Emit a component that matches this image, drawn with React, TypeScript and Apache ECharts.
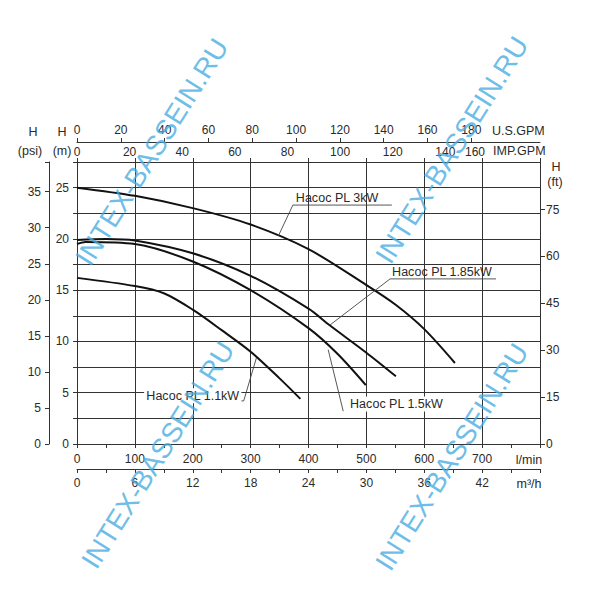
import React, { useEffect, useRef } from 'react';
import * as echarts from 'echarts';

// ---- unit conversions (axes share one physical scale: l/min and metres) ----
const LPM_MAX = 800;
const H_MAX = 27.5;
const L_PER_USGAL = 3.78541;
const L_PER_IMPGAL = 4.54609;
const M_PER_PSI = 0.70307;
const M_PER_FT = 0.3048;

// ---- tick labels ----
const lpmLabels = [0, 100, 200, 300, 400, 500, 600, 700];
const m3hLabels = [0, 6, 12, 18, 24, 30, 36, 42];
const usGpmLabels = [0, 20, 40, 60, 80, 100, 120, 140, 160, 180];
const impGpmLabels = [0, 20, 40, 60, 80, 100, 120, 140, 160];
const hMLabels = [0, 5, 10, 15, 20, 25];
const psiLabels = [0, 5, 10, 15, 20, 25, 30, 35];
const ftLabels = [0, 15, 30, 45, 60, 75];

// ---- pump curves: flow (l/min) and head (m) ----
const pump3kWQ = [0, 100, 200, 300, 400, 500, 550, 600, 653];
const pump3kWH = [25.0, 24.2, 23.0, 21.4, 19.0, 15.5, 13.6, 11.2, 7.9];

const pump185Q = [0, 50, 100, 200, 300, 400, 436, 500, 551];
const pump185H = [19.9, 20.0, 19.85, 18.6, 16.4, 13.2, 11.6, 8.9, 6.6];

const pump15Q = [0, 15, 100, 200, 300, 400, 450, 499];
const pump15H = [19.5, 19.7, 19.5, 17.8, 15.0, 11.3, 8.8, 5.75];

const pump11Q = [0, 100, 150, 200, 250, 300, 350, 386];
const pump11H = [16.2, 15.4, 14.7, 13.1, 11.1, 9.0, 6.4, 4.4];

const seriesNames = ['Насос PL 3kW', 'Насос PL 1.85kW', 'Насос PL 1.5kW', 'Насос PL 1.1kW'];

const AX = '#333';
const TXT = '#2a2a2a';
const FONT = '"Liberation Sans", Arial, sans-serif';

const zip = (q: number[], h: number[]) => q.map((x, i) => [x, h[i]]);

const lbl = (list: number[], extra: any = {}) => ({
  fontSize: 12,
  color: TXT,
  fontFamily: FONT,
  formatter: (v: number) => (list.includes(v) ? String(v) : ''),
  ...extra,
});

export default function App() {
  const ref = useRef<HTMLDivElement>(null);

  useEffect(() => {
    if (!ref.current) return;
    const chart = echarts.init(ref.current, null, { renderer: 'svg' });

    const curveSeries = [
      zip(pump3kWQ, pump3kWH),
      zip(pump185Q, pump185H),
      zip(pump15Q, pump15H),
      zip(pump11Q, pump11H),
    ].map((data, i) => ({
      type: 'line',
      name: seriesNames[i],
      xAxisIndex: 0,
      yAxisIndex: 0,
      data,
      smooth: 0.3,
      symbol: 'none',
      lineStyle: { color: '#111', width: 2 },
      z: 5,
    }));

    const option: any = {
      animation: false,
      backgroundColor: '#fff',
      grid: { left: 77, top: 162, right: 60, bottom: 156, outerBoundsMode: 'none' },
      xAxis: [
        {
          type: 'value', position: 'bottom', min: 0, max: LPM_MAX, interval: 100,
          axisLine: { show: true, onZero: false, lineStyle: { color: AX, width: 1 } },
          axisTick: { show: true, length: 4, lineStyle: { color: AX } },
          minorTick: { show: true, splitNumber: 2, length: 4, lineStyle: { color: AX } },
          splitLine: { show: true, lineStyle: { color: AX, width: 1 } },
          axisLabel: lbl(lpmLabels, { margin: 9 }),
        },
        {
          type: 'value', position: 'bottom', offset: 25, min: 0, max: (LPM_MAX * 60) / 1000, interval: 6,
          axisLine: { show: true, onZero: false, lineStyle: { color: AX, width: 1 } },
          axisTick: { show: true, length: 4, lineStyle: { color: AX } },
          minorTick: { show: true, splitNumber: 2, length: 4, lineStyle: { color: AX } },
          splitLine: { show: false },
          axisLabel: lbl(m3hLabels, { margin: 8 }),
        },
        {
          type: 'value', position: 'top', offset: 20, min: 0, max: LPM_MAX / L_PER_USGAL, interval: 20,
          axisLine: { show: true, onZero: false, lineStyle: { color: AX, width: 1 } },
          axisTick: { show: true, length: 4, lineStyle: { color: AX }, customValues: usGpmLabels },
          splitLine: { show: false },
          axisLabel: lbl(usGpmLabels, { margin: 6 }),
        },
        {
          type: 'value', position: 'top', offset: 0, min: 0, max: LPM_MAX / L_PER_IMPGAL, interval: 20,
          axisLine: { show: true, onZero: false, lineStyle: { color: AX, width: 1 } },
          axisTick: { show: false },
          splitLine: { show: false },
          axisLabel: lbl(impGpmLabels, {
            margin: 4,
            formatter: (v: number) =>
              !impGpmLabels.includes(v) ? '' : v === 160 ? '{s|160}' : String(v),
            rich: { s: { padding: [0, 46, 0, 0], fontSize: 12, color: TXT, fontFamily: FONT } },
          }),
        },
        {
          type: 'value', position: 'top', offset: 0, min: 0, max: LPM_MAX, interval: 100,
          axisLine: { show: false, onZero: false },
          axisTick: { show: true, length: 4, lineStyle: { color: AX } },
          splitLine: { show: false },
          axisLabel: { show: false },
        },
      ],
      yAxis: [
        {
          type: 'value', position: 'left', min: 0, max: H_MAX, interval: 2.5,
          axisLine: { show: true, onZero: false, lineStyle: { color: AX, width: 1 } },
          axisTick: { show: true, length: 4, lineStyle: { color: AX } },
          splitLine: { show: true, lineStyle: { color: AX, width: 1 } },
          axisLabel: lbl(hMLabels, { margin: 8 }),
        },
        {
          type: 'value', position: 'left', offset: 28, min: 0, max: H_MAX / M_PER_PSI, interval: 5,
          axisLine: { show: true, onZero: false, lineStyle: { color: AX, width: 1 } },
          axisTick: { show: true, length: 4, lineStyle: { color: AX } },
          splitLine: { show: false },
          axisLabel: lbl(psiLabels, { margin: 8 }),
        },
        {
          type: 'value', position: 'right', offset: 0, min: 0, max: H_MAX / M_PER_FT, interval: 15,
          axisLine: { show: true, onZero: false, lineStyle: { color: AX, width: 1 } },
          axisTick: { show: true, length: 5, lineStyle: { color: AX }, customValues: ftLabels },
          splitLine: { show: false },
          axisLabel: lbl(ftLabels, { margin: 6 }),
        },
      ],
      series: curveSeries,
    };

    chart.setOption(option);

    const P = (q: number, h: number) =>
      chart.convertToPixel({ xAxisIndex: 0, yAxisIndex: 0 } as any, [q, h]) as number[];

    const txt = (text: string, x: number, y: number, align = 'center', size = 12.5, extra: any = {}) => ({
      type: 'text',
      x,
      y,
      z: 20,
      style: {
        text,
        fill: TXT,
        font: `${size}px ${FONT}`,
        align,
        verticalAlign: 'middle',
        textAlign: align,
        textVerticalAlign: 'middle',
        ...extra,
      },
    });

    const leader = (pts: number[][]) => ({
      type: 'polyline',
      z: 19,
      shape: { points: pts.map(([q, h]) => P(q, h)) },
      style: { stroke: '#444', lineWidth: 0.9, fill: null },
    });

    // annotation anchors in data units (l/min, m)
    const a3 = { curve: [348, 20.3], underline: [[373, 23.3], [544, 23.3]] };
    const a185 = { curve: [437, 11.6], underline: [[541, 16.1], [724, 16.1]] };
    const a15 = { curve: [434, 9.2], end: [460, 3.2], text: [552, 3.9] };
    const a11 = { curve: [310, 8.4], corner: [288, 4.2], end: [281, 4.2], text: [200, 4.7] };

    const u3 = P(a3.underline[0][0], a3.underline[0][1]);
    const u185 = P(a185.underline[0][0], a185.underline[0][1]);
    const t15 = P(a15.text[0], a15.text[1]);
    const t11 = P(a11.text[0], a11.text[1]);

    const wm = (cx: number, cy: number) => ({
      type: 'text',
      x: cx,
      y: cy,
      rotation: 1.01,
      z: 30,
      silent: true,
      style: {
        text: 'INTEX-BASSEIN.RU',
        fill: 'rgba(70,172,226,0.8)',
        font: `28px ${FONT}`,
        align: 'center',
        verticalAlign: 'middle',
        textAlign: 'center',
        textVerticalAlign: 'middle',
      },
    });

    chart.setOption({
      graphic: [
        // axis unit captions
        txt('H', 33, 132), txt('(psi)', 30, 151),
        txt('H', 62, 132), txt('(m)', 62, 151),
        txt('U.S.GPM', 492, 131, 'left'),
        txt('IMP.GPM', 493, 151, 'left'),
        txt('H', 556, 167), txt('(ft)', 555, 182),
        txt('l/min', 529, 460),
        txt('m³/h', 529, 484),
        // curve annotations
        leader([a3.curve, ...a3.underline]),
        txt(seriesNames[0], u3[0] + 3, u3[1] - 7, 'left'),
        leader([a185.curve, ...a185.underline]),
        txt(seriesNames[1], u185[0] + 2, u185[1] - 7, 'left'),
        leader([a15.curve, a15.end]),
        txt(seriesNames[2], t15[0], t15[1], 'center', 12.5, { backgroundColor: '#fff', padding: [1, 2] }),
        leader([a11.curve, a11.corner, a11.end]),
        txt(seriesNames[3], t11[0], t11[1], 'center', 12.5, { backgroundColor: '#fff', padding: [1, 2] }),
        // watermarks
        wm(152, 152), wm(452, 150), wm(158, 455), wm(452, 457),
      ],
    });

    return () => chart.dispose();
  }, []);

  return (
    <div
      ref={ref}
      style={{ position: 'fixed', left: 0, top: 0, width: 600, height: 600, background: '#fff' }}
    />
  );
}
